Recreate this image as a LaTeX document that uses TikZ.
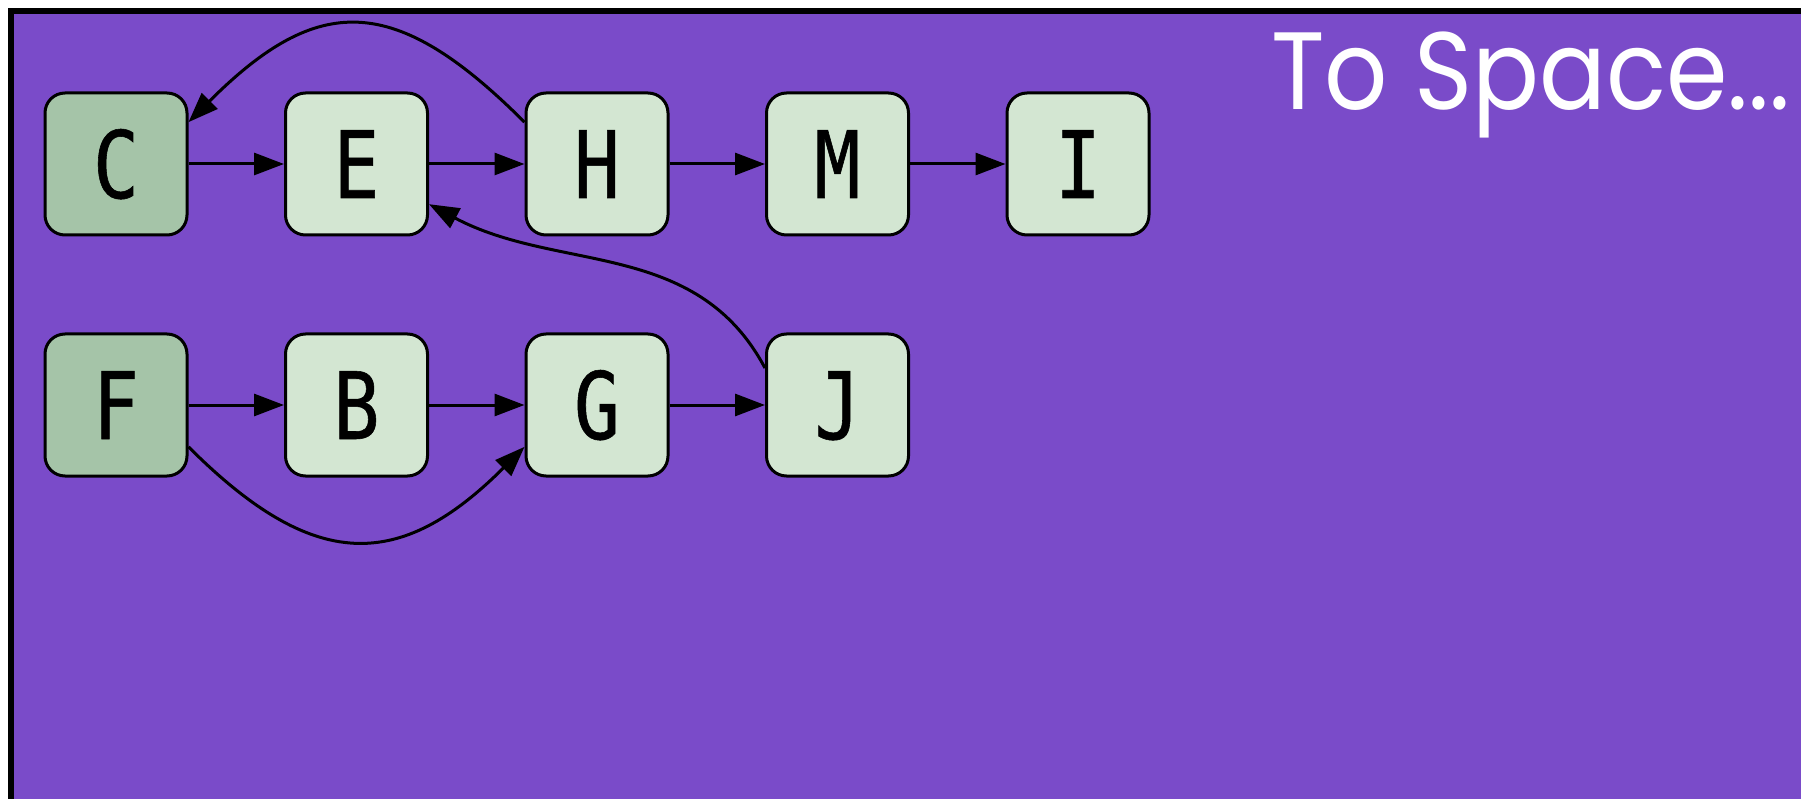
\documentclass[tikz,border=0pt]{standalone}
\usepackage{fontspec}
\usetikzlibrary{arrows.meta,positioning}
\newfontfamily\boxfont{DejaVu Sans Mono}[FakeStretch=0.82,FakeBold=0.6]
\newfontfamily\titlefont{Poppins}[FakeStretch=0.9]
\definecolor{spacebg}{HTML}{7A4BC9}
\definecolor{rootfill}{HTML}{A5C4A8}
\definecolor{objfill}{HTML}{D3E6D2}

\begin{document}
\begin{tikzpicture}[x=1pt,y=-1pt,
  node distance=95.5pt,
  obj/.style={rectangle,rounded corners=20pt,draw=black,line width=3pt,
              fill=objfill,minimum width=142pt,minimum height=142pt,
              inner sep=0pt,text height=68pt,text depth=0pt,
              font=\boxfont\fontsize{93}{93}\selectfont},
  root/.style={obj,fill=rootfill},
  title/.style={text=white,inner sep=0pt,
                font=\titlefont\fontsize{110}{110}\selectfont},
  arr/.style={-{Triangle[length=30pt,width=22pt]},line width=3pt}
]
  \useasboundingbox (0,0) rectangle (1801,799);
  \fill[white] (0,0) rectangle (1801,799);
  \begin{scope}
    \clip (0,0) rectangle (1801,799);
    \draw[fill=spacebg,line width=6pt] (11,11) rectangle (1830,830);
  \end{scope}

  % top row
  \node[root] (C) at (116,164) {C};
  \node[obj, right=of C] (E) {E};
  \node[obj, right=of E] (H) {H};
  \node[obj, right=of H] (M) {M};
  \node[obj, right=of M] (I) {I};
  % bottom row
  \node[root, below=96pt of C] (F) {F};
  \node[obj, right=of F] (B) {B};
  \node[obj, right=of B] (G) {G};
  \node[obj, right=of G] (J) {J};

  \node[title, anchor=base west] (ttl) at (1271,110) {To Space...};

  \draw[arr] (C) -- (E);
  \draw[arr] (E) -- (H);
  \draw[arr] (H) -- (M);
  \draw[arr] (M) -- (I);
  \draw[arr] (F) -- (B);
  \draw[arr] (B) -- (G);
  \draw[arr] (G) -- (J);
  \draw[arr] (H.150) to[out=135,in=45,looseness=1.4] (C.30);
  \draw[arr] (F.-30) to[out=-45,in=-135,looseness=1.35] (G.210);
  \draw[arr] (J.153) to[out=118,in=-28] (E.-29);
\end{tikzpicture}
\end{document}
